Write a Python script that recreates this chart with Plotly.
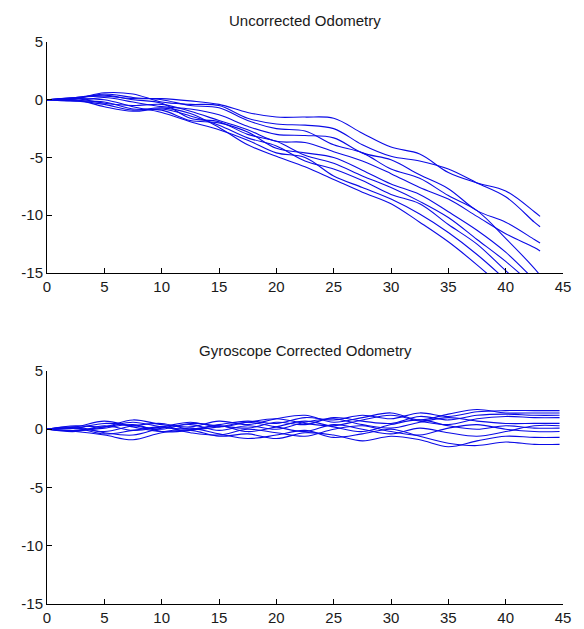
import plotly.graph_objects as go
from plotly.subplots import make_subplots

# ---- data ----
x_top = [0, 2.5, 5, 7.5, 10, 12.5, 15, 17.5, 20, 22.5, 25, 27.5, 30, 32.5, 35, 37.5, 40, 42.5, 43]
top_runs = [
    [0, 0.2, 0.3, 0.1, 0.1, -0.1, -0.4, -1.1, -1.5, -1.5, -1.6, -2.9, -4.1, -4.7, -6.3, -7.2, -7.9, -9.7, -10.1],
    [0, 0.1, 0.6, 0.5, -0.2, -0.4, -0.5, -1.6, -2.1, -2.2, -2.5, -3.9, -4.9, -5.3, -6.0, -7.2, -8.4, -10.6, -11.0],
    [0, -0.1, 0.2, -0.2, -0.6, -0.8, -1.3, -2.3, -3.0, -3.1, -3.3, -4.6, -5.2, -6.5, -7.7, -9.6, -10.6, -12.1, -12.4],
    [0, 0.1, -0.3, -0.5, -0.4, -1.0, -1.8, -2.6, -3.6, -3.7, -4.5, -5.3, -6.4, -7.6, -8.6, -10.1, -11.6, -12.8, -13.1],
    [0, -0.1, -0.2, -0.8, -0.9, -1.8, -2.0, -2.8, -4.2, -4.6, -5.0, -6.1, -7.3, -8.2, -9.7, -11.3, -13.2, -15.6, -16.1],
    [0, 0.2, 0.4, 0.0, -0.3, -1.6, -1.9, -3.0, -3.6, -4.8, -5.5, -6.6, -7.6, -8.8, -10.2, -12.1, -14.0, -16.2, -16.7],
    [0, 0.0, -0.6, -1.0, -0.8, -1.4, -2.2, -3.3, -4.0, -5.3, -6.0, -7.0, -8.2, -9.0, -10.8, -12.5, -14.8, -17.0, -17.5],
    [0, 0.1, 0.0, -0.6, -1.1, -1.9, -2.6, -3.5, -4.6, -5.0, -6.6, -7.6, -8.6, -9.9, -11.5, -13.4, -15.6, -18.0, -18.5],
    [0, -0.1, -0.4, -0.9, -0.7, -1.2, -2.4, -3.9, -4.9, -5.8, -6.9, -8.0, -9.0, -10.6, -12.3, -14.3, -16.5, -19.0, -19.5],
    [0, 0.1, 0.5, 0.2, 0.0, -0.5, -0.7, -1.8, -2.5, -2.7, -3.9, -4.6, -6.0, -6.8, -8.3, -9.6, -12.0, -14.6, -15.2],
]

x_bot = [0, 2.5, 5, 7.5, 10, 12.5, 15, 17.5, 20, 22.5, 25, 27.5, 30, 32.5, 35, 37.5, 40, 42.5, 44.7]
bot_runs = [
    [0, 0.3, 0.2, 0.6, 0.2, 0.0, 0.4, 0.7, 0.5, 1.0, 0.8, 1.2, 0.9, 1.4, 1.1, 1.5, 1.6, 1.6, 1.6],
    [0, 0.1, 0.5, 0.3, 0.0, 0.5, 0.3, 0.1, 0.6, 0.4, 1.0, 0.7, 0.5, 1.1, 0.8, 1.2, 1.3, 1.2, 1.2],
    [0, -0.2, 0.3, -0.1, 0.2, 0.6, 0.2, 0.6, 0.9, 0.5, 0.3, 0.8, 1.2, 0.7, 0.4, 0.9, 1.1, 1.0, 1.0],
    [0, 0.2, -0.3, -0.5, 0.1, 0.4, -0.1, 0.3, 0.0, 0.6, 0.9, 0.4, 0.1, 0.6, 1.0, 0.7, 0.5, 0.5, 0.5],
    [0, -0.1, 0.1, 0.4, -0.2, -0.1, 0.3, -0.2, 0.2, 0.7, 0.2, -0.2, 0.4, 0.8, 0.3, 0.0, 0.3, 0.1, 0.1],
    [0, 0.1, -0.4, -0.1, 0.2, -0.3, -0.5, 0.0, -0.3, -0.6, 0.0, 0.3, -0.2, -0.5, 0.1, 0.4, 0.0, -0.2, -0.2],
    [0, -0.2, -0.5, -0.9, -0.3, -0.1, -0.6, -0.4, -0.8, -0.3, -0.5, -1.0, -0.6, -0.9, -1.5, -1.0, -0.6, -0.7, -0.7],
    [0, 0.2, 0.7, 0.2, -0.2, 0.1, -0.4, -0.8, -0.5, -0.1, -0.7, -0.4, 0.0, -0.6, -1.2, -1.4, -1.1, -1.3, -1.3],
    [0, -0.1, 0.2, 0.8, 0.4, 0.2, 0.7, 0.4, 0.9, 1.2, 0.6, 1.0, 1.4, 0.8, 1.3, 1.7, 1.4, 1.4, 1.4],
    [0, 0.1, -0.2, 0.3, 0.5, 0.0, 0.2, 0.6, 0.2, -0.2, 0.4, 0.0, -0.4, 0.1, -0.3, -0.6, -0.2, 0.3, 0.3],
]

titles = ["Uncorrected Odometry", "Gyroscope Corrected Odometry"]
x_ticks = [0, 5, 10, 15, 20, 25, 30, 35, 40, 45]
y_ticks = [5, 0, -5, -10, -15]

LINE = "#0a0ae6"
FONT = "Liberation Sans, Arial, sans-serif"
TXT = "#1a1a1a"

fig = make_subplots(rows=2, cols=1)
for run in top_runs:
    fig.add_trace(go.Scatter(x=x_top, y=run, mode="lines",
                             line=dict(color=LINE, width=1.1, shape="spline", smoothing=1.0),
                             showlegend=False, hoverinfo="skip"), row=1, col=1)
for run in bot_runs:
    fig.add_trace(go.Scatter(x=x_bot, y=run, mode="lines",
                             line=dict(color=LINE, width=1.1, shape="spline", smoothing=1.0),
                             showlegend=False, hoverinfo="skip"), row=2, col=1)

axis_common = dict(showline=True, linecolor="black", linewidth=1, ticks="inside",
                   ticklen=5, tickcolor="black", showgrid=False, zeroline=False,
                   tickfont=dict(family=FONT, size=15, color=TXT), mirror=False,
                   automargin=False)

fig.update_xaxes(range=[0, 45], tickvals=x_ticks, ticktext=[str(v) for v in x_ticks], **axis_common)
fig.update_yaxes(range=[-15, 5], tickvals=y_ticks, ticktext=[str(v) for v in y_ticks], **axis_common)

fig.update_layout(
    width=584, height=629,
    margin=dict(l=47, r=21, t=42, b=25, autoexpand=False),
    paper_bgcolor="white", plot_bgcolor="white",
    xaxis=dict(domain=[0, 1]), yaxis=dict(domain=[0.589, 1.0]),
    xaxis2=dict(domain=[0, 1]), yaxis2=dict(domain=[0.0, 0.4146]),
    showlegend=False,
    annotations=[
        dict(text=titles[0], x=0.5, y=1.0, xref="paper", yref="paper", yshift=22,
             yanchor="middle", showarrow=False, font=dict(family=FONT, size=15, color=TXT)),
        dict(text=titles[1], x=0.5, y=0.4146, xref="paper", yref="paper", yshift=20,
             yanchor="middle", showarrow=False, font=dict(family=FONT, size=15, color=TXT)),
    ],
)

# remove the default 8px page margin so the figure fills the window exactly
fig.write_html("out.html", config={"displayModeBar": False},
               post_script="document.body.style.margin='0';")
